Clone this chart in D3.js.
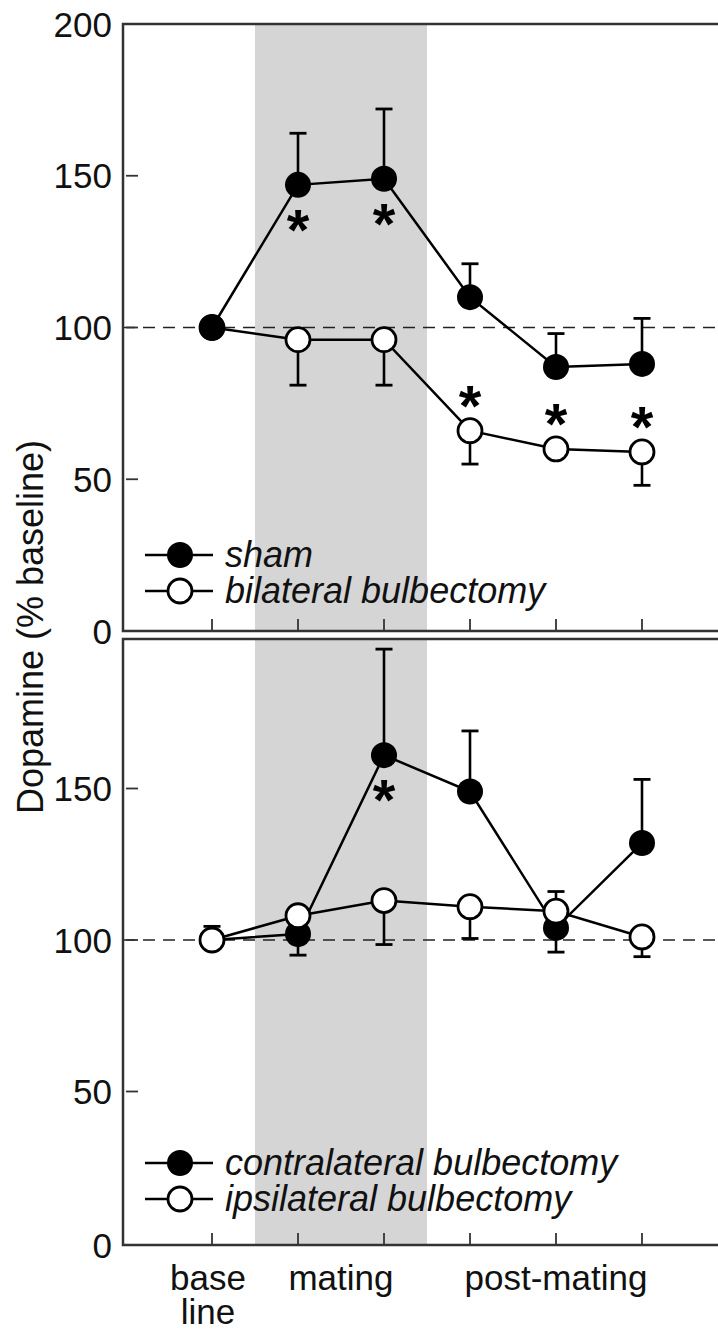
<!DOCTYPE html>
<html>
<head>
<meta charset="utf-8">
<script src="https://cdn.jsdelivr.net/npm/d3@7"></script>
<style>
  body { margin: 0; background: #fff; }
  svg { display: block; font-family: "Liberation Sans", Arial, Helvetica, sans-serif; }
</style>
</head>
<body>
<svg id="chart" width="718" height="1330"></svg>
<script>
// time points: baseline, mating (2 samples), post-mating (3 samples)
const timepoints = [0, 1, 2, 3, 4, 5];
const xLabels = [
  { at: 0, lines: ["base", "line"] },
  { at: 1.5, lines: ["mating"] },
  { at: 4, lines: ["post-mating"] },
];

// upper panel
const shamMean = [100, 147, 149, 110, 87, 88];
const shamErr = [0, 17, 23, 11, 11, 15]; // + means bar drawn up, - down
const bilatMean = [100, 96, 96, 66, 60, 59];
const bilatErr = [0, -15, -15, -11, 0, -11];
const shamStars = [1, 2];
const bilatStars = [3, 4, 5];

// lower panel
const contraMean = [100, 102, 161, 149, 104, 132];
const contraErr = [0, -7, 35, 20, -8, 21];
const ipsiMean = [100, 108, 113, 111, 109.5, 101];
const ipsiErr = [4.5, 0, -14.5, -10.5, 6.5, -6.5];
const contraStars = [2];

const topTicks = [0, 50, 100, 150, 200];
const bottomTicks = [0, 50, 100, 150];

const svg = d3.select("#chart");
const W = 718;
const axisX = 123;

const x = d3.scaleLinear().domain([0, 5]).range([212, 642]);

function drawPanel(cfg) {
  const y = d3.scaleLinear().domain([0, 200]).range(cfg.range);
  const g = svg.append("g");

  // grey band covering the mating period
  const bandL = (x(0) + x(1)) / 2;
  const bandR = (x(2) + x(3)) / 2;
  g.append("rect")
    .attr("x", bandL).attr("y", cfg.frameTop + 1)
    .attr("width", bandR - bandL).attr("height", cfg.frameBottom - cfg.frameTop - 2)
    .attr("fill", "#d5d5d5");

  // dashed baseline
  g.append("line")
    .attr("x1", axisX).attr("x2", W)
    .attr("y1", y(100)).attr("y2", y(100))
    .attr("stroke", "#222").attr("stroke-width", 1.6)
    .attr("stroke-dasharray", "12,8");

  // frame
  g.append("path")
    .attr("d", `M${W},${cfg.frameTop}H${axisX}V${cfg.frameBottom}H${W}`)
    .attr("fill", "none").attr("stroke", "#333").attr("stroke-width", 2.5);

  // x ticks pointing in
  g.selectAll(".xt").data(timepoints).join("line")
    .attr("x1", d => x(d)).attr("x2", d => x(d))
    .attr("y1", cfg.frameBottom).attr("y2", cfg.frameBottom - 12)
    .attr("stroke", "#333").attr("stroke-width", 1.8);

  // y ticks + labels
  g.selectAll(".yt").data(cfg.ticks.filter(d => d > 0 && d < 200)).join("line")
    .attr("x1", axisX + 3).attr("x2", axisX + 15)
    .attr("y1", d => y(d)).attr("y2", d => y(d))
    .attr("stroke", "#333").attr("stroke-width", 1.8);
  g.selectAll(".yl").data(cfg.ticks).join("text")
    .attr("x", 112)
    .attr("y", d => (d === 0 ? cfg.frameBottom : d === 200 ? cfg.frameTop : y(d)))
    .attr("dy", "0.36em")
    .attr("text-anchor", "end")
    .attr("font-size", 35)
    .attr("fill", "#111")
    .text(d => d);

  const line = d3.line().x((d, i) => x(i)).y(d => y(d));

  // series drawn in list order, last one ends up on top
  cfg.series.forEach(s => {
    const eb = g.append("g");
    s.mean.forEach((m, i) => {
      if (!s.err[i]) return;
      const y1 = y(m + s.err[i]);
      eb.append("line")
        .attr("x1", x(i)).attr("x2", x(i)).attr("y1", y(m)).attr("y2", y1)
        .attr("stroke", "#000").attr("stroke-width", 2.6);
      eb.append("line")
        .attr("x1", x(i) - 8.5).attr("x2", x(i) + 8.5).attr("y1", y1).attr("y2", y1)
        .attr("stroke", "#000").attr("stroke-width", 2.8);
    });
    g.append("path")
      .datum(s.mean)
      .attr("d", line)
      .attr("fill", "none").attr("stroke", "#000").attr("stroke-width", 2.5);
    g.selectAll(null).data(s.mean).join("circle")
      .attr("cx", (d, i) => x(i)).attr("cy", d => y(d))
      .attr("r", s.filled ? 13 : 12)
      .attr("fill", s.filled ? "#000" : "#fff")
      .attr("stroke", "#000").attr("stroke-width", s.filled ? 0 : 2.8);
    // significance stars
    g.selectAll(null).data(s.stars).join("text")
      .attr("x", i => x(i))
      .attr("y", i => y(s.mean[i]) + s.starSide * 35 + 30)
      .attr("text-anchor", "middle")
      .attr("font-size", 58)
      .attr("font-weight", "bold")
      .text("*");
  });

  // legend
  cfg.legend.forEach((s, k) => {
    const ly = cfg.legendY + k * 36;
    g.append("line")
      .attr("x1", 145).attr("x2", 213).attr("y1", ly).attr("y2", ly)
      .attr("stroke", "#000").attr("stroke-width", 2.5);
    g.append("circle")
      .attr("cx", 180).attr("cy", ly).attr("r", s.filled ? 13 : 12)
      .attr("fill", s.filled ? "#000" : "#fff")
      .attr("stroke", "#000").attr("stroke-width", s.filled ? 0 : 2.8);
    g.append("text")
      .attr("x", 225).attr("y", ly).attr("dy", "0.33em")
      .attr("font-size", 36).attr("font-style", "italic")
      .attr("fill", "#111")
      .text(s.name);
  });
}

const sham = { name: "sham", mean: shamMean, err: shamErr, filled: true, stars: shamStars, starSide: 1 };
const bilat = { name: "bilateral bulbectomy", mean: bilatMean, err: bilatErr, filled: false, stars: bilatStars, starSide: -1 };
const contra = { name: "contralateral bulbectomy", mean: contraMean, err: contraErr, filled: true, stars: contraStars, starSide: 1 };
const ipsi = { name: "ipsilateral bulbectomy", mean: ipsiMean, err: ipsiErr, filled: false, stars: [], starSide: -1 };

drawPanel({
  range: [631, 24], frameTop: 24, frameBottom: 631, ticks: topTicks, legendY: 555,
  series: [bilat, sham], legend: [sham, bilat],
});

drawPanel({
  range: [1243, 637], frameTop: 639, frameBottom: 1245, ticks: bottomTicks, legendY: 1163,
  series: [contra, ipsi], legend: [contra, ipsi],
});

// x axis labels
xLabels.forEach(l => {
  l.lines.forEach((t, j) => {
    svg.append("text")
      .attr("x", x(l.at) - (l.lines.length > 1 ? 4 : 0)).attr("y", 1290 + j * 34)
      .attr("text-anchor", "middle")
      .attr("font-size", 35).attr("fill", "#111")
      .text(t);
  });
});

// y axis title
svg.append("text")
  .attr("transform", "translate(43,627) rotate(-90)")
  .attr("text-anchor", "middle")
  .attr("font-size", 36).attr("fill", "#111")
  .text("Dopamine (% baseline)");
</script>
</body>
</html>
